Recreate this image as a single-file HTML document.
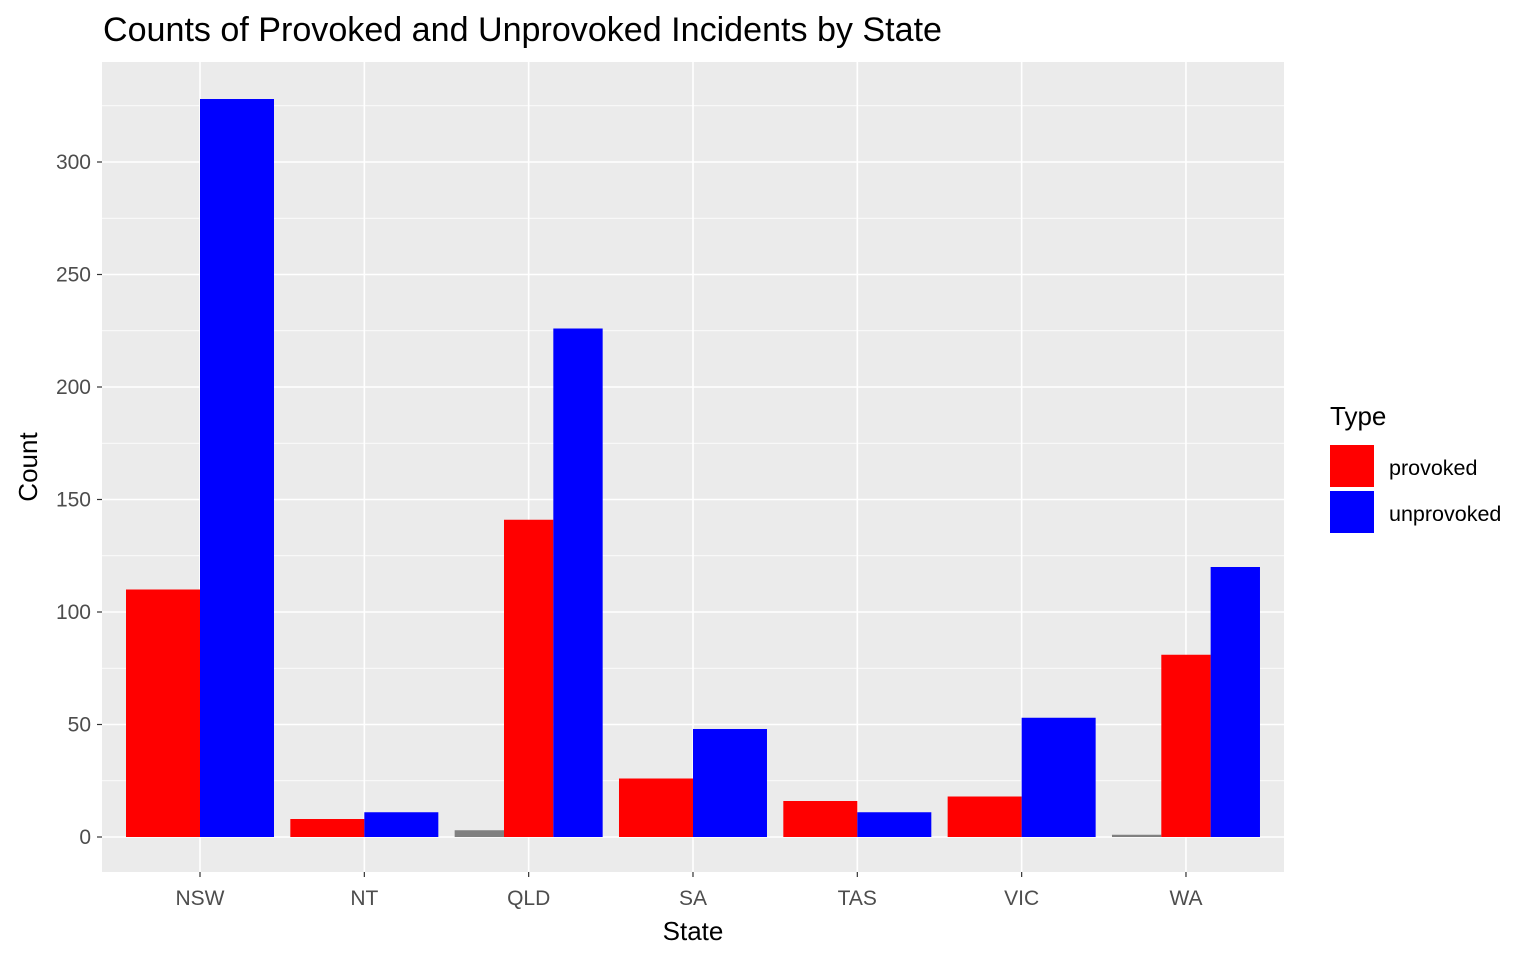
<!DOCTYPE html>
<html><head><meta charset="utf-8"><style>
body{margin:0;background:#fff;}
svg{display:block;font-family:"Liberation Sans",Arial,sans-serif;}
</style></head><body>
<svg id="chart" width="1536" height="960">
<text x="103" y="41" font-size="34" textLength="839" lengthAdjust="spacingAndGlyphs" fill="#000">Counts of Provoked and Unprovoked Incidents by State</text>
<rect x="102" y="62" width="1182" height="810" fill="#EBEBEB"/>
<g id="grid"></g>
<g id="bars"></g>
<g id="axes"></g>
<text x="693" y="940" font-size="26" text-anchor="middle" fill="#000">State</text>
<text x="0" y="0" font-size="26" text-anchor="middle" fill="#000" transform="translate(37,467) rotate(-90)">Count</text>
<g>
<text x="1330" y="425" font-size="26" fill="#000">Type</text>
<rect x="1330" y="445" width="44" height="42" fill="#FF0000"/>
<text x="1389" y="475" font-size="21.5" fill="#000">provoked</text>
<rect x="1330" y="491" width="44" height="42" fill="#0000FF"/>
<text x="1389" y="521" font-size="21.5" fill="#000">unprovoked</text>
</g>
</svg>
<script>
const categories=["NSW","NT","QLD","SA","TAS","VIC","WA"];
const naValues=[null,null,3,null,null,null,1];
const provoked=[110,8,141,26,16,18,81];
const unprovoked=[328,11,226,48,11,53,120];
const yTicks=[0,50,100,150,200,250,300];
const NS="http://www.w3.org/2000/svg";
const x0=200, step=164.33, groupW=148;
function xScale(i){return x0+i*step;}
function yScale(v){return 837-v*2.25;}
function mk(tag,attrs,parent){const e=document.createElementNS(NS,tag);for(const k in attrs)e.setAttribute(k,attrs[k]);parent.appendChild(e);return e;}
const grid=document.getElementById('grid'),bars=document.getElementById('bars'),axes=document.getElementById('axes');
const minorVals=[-25];
for(let i=0;i<yTicks.length-1;i++)minorVals.push((yTicks[i]+yTicks[i+1])/2);
minorVals.push(yTicks[yTicks.length-1]+25);
minorVals.forEach(v=>{
  const l=mk('line',{x1:102,x2:1284,y1:yScale(v),y2:yScale(v),stroke:'#fff','stroke-width':0.8},grid);
  
  
});
yTicks.forEach(v=>{
  const l=mk('line',{x1:102,x2:1284,y1:yScale(v),y2:yScale(v),stroke:'#fff','stroke-width':1.6},grid);
  
  
  const t=mk('line',{x1:97,x2:102,y1:yScale(v),y2:yScale(v),stroke:'#333','stroke-width':1.2},axes);
  
  
  const tx=mk('text',{x:91,y:yScale(v)+7,'font-size':21,'text-anchor':'end',fill:'#4D4D4D'},axes);
  tx.textContent=v;
  
  
});
categories.forEach((c,i)=>{
  const x=xScale(i);
  const l=mk('line',{x1:x,x2:x,y1:62,y2:872,stroke:'#fff','stroke-width':1.6},grid);
  
  
  const t=mk('line',{x1:x,x2:x,y1:872,y2:877,stroke:'#333','stroke-width':1.2},axes);
  
  
  const tx=mk('text',{x:x,y:905,'font-size':21,'text-anchor':'middle',fill:'#4D4D4D'},axes);
  tx.textContent=c;
  
  
  const series=[];
  if(naValues[i]!=null)series.push([naValues[i],'#808080','na']);
  series.push([provoked[i],'#FF0000','provoked']);
  series.push([unprovoked[i],'#0000FF','unprovoked']);
  const w=groupW/series.length;
  series.forEach((s,j)=>{
    const bx=x-groupW/2+j*w;
    const r=mk('rect',{x:bx,y:yScale(s[0]),width:w,height:yScale(0)-yScale(s[0]),fill:s[1]},bars);
    
    
  });
});
</script>
</body></html>
